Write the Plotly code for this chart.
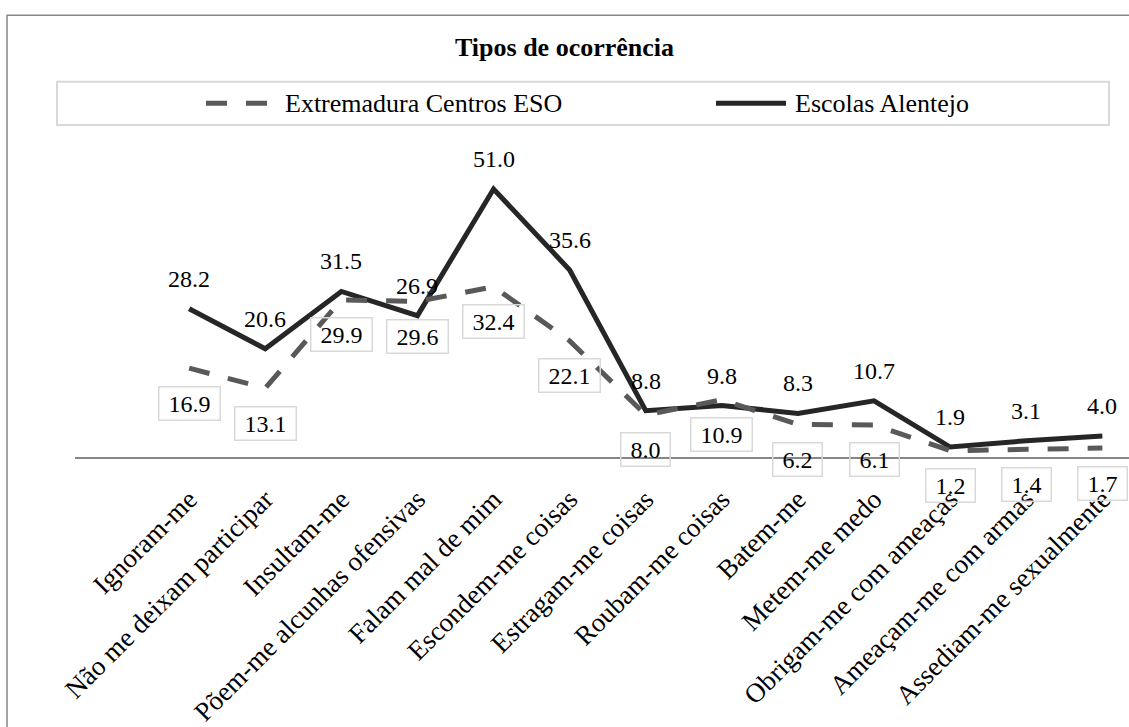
import plotly.graph_objects as go

# Categories and percentages per series
categorias = [
    "Ignoram-me", "Não me deixam participar", "Insultam-me",
    "Põem-me alcunhas ofensivas", "Falam mal de mim", "Escondem-me coisas",
    "Estragam-me coisas", "Roubam-me coisas", "Batem-me", "Metem-me medo",
    "Obrigam-me com ameaças", "Ameaçam-me com armas", "Assediam-me sexualmente",
]
extremadura = [16.9, 13.1, 29.9, 29.6, 32.4, 22.1, 8.0, 10.9, 6.2, 6.1, 1.2, 1.4, 1.7]
alentejo = [28.2, 20.6, 31.5, 26.9, 51.0, 35.6, 8.8, 9.8, 8.3, 10.7, 1.9, 3.1, 4.0]

nome_ext = "Extremadura Centros ESO"
nome_ale = "Escolas Alentejo"
titulo = "Tipos de ocorrência"

# Page geometry
W, H = 1129, 727
L, R, T, B = 75, 0, 168, 264
plot_w = W - L - R
plot_h = H - T - B
base_y = H - B

SERIF = '"Liberation Serif", "Times New Roman", Times, serif'
COR_EXT = "#595959"
COR_ALE = "#262626"


def px_x(p):
    return (p - L) / plot_w


def px_y(p):
    return (base_y - p) / plot_h


fig = go.Figure()

fig.add_trace(go.Scatter(
    x=categorias, y=alentejo, name=nome_ale, mode="lines",
    line=dict(color=COR_ALE, width=5),
))
fig.add_trace(go.Scatter(
    x=categorias, y=extremadura, name=nome_ext, mode="lines",
    line=dict(color=COR_EXT, width=5, dash="21px,19px"),
))

annotations = []
# Values above the solid series
for c, v in zip(categorias, alentejo):
    annotations.append(dict(
        x=c, y=v, xref="x", yref="y", text=f"{v:.1f}", showarrow=False,
        yshift=30, font=dict(family=SERIF, size=24, color="#000000"),
    ))
# Boxed values below the dashed series
for c, v in zip(categorias, extremadura):
    annotations.append(dict(
        x=c, y=v, xref="x", yref="y", text=f"\u00a0{v:.1f}\u00a0", showarrow=False,
        yshift=-35, font=dict(family=SERIF, size=24, color="#000000"),
        bordercolor="#d9d9d9", borderwidth=1.5, borderpad=3,
    ))

# Legend texts
annotations.append(dict(
    x=px_x(283), y=px_y(102), xref="paper", yref="paper", text=nome_ext,
    showarrow=False, xanchor="left", yanchor="middle",
    font=dict(family=SERIF, size=26, color="#000000"),
))
annotations.append(dict(
    x=px_x(793), y=px_y(102), xref="paper", yref="paper", text=nome_ale,
    showarrow=False, xanchor="left", yanchor="middle",
    font=dict(family=SERIF, size=26, color="#000000"),
))

shapes = [
    # chart frame
    dict(type="rect", xref="paper", yref="paper",
         x0=px_x(7), x1=px_x(W + 20), y0=px_y(12), y1=px_y(H + 20),
         line=dict(color="#878787", width=1.5), layer="below"),
    # legend box
    dict(type="rect", xref="paper", yref="paper",
         x0=px_x(57), x1=px_x(1109), y0=px_y(80), y1=px_y(124),
         line=dict(color="#d9d9d9", width=2)),
    # legend samples
    dict(type="line", xref="paper", yref="paper",
         x0=px_x(206), x1=px_x(270), y0=px_y(102), y1=px_y(102),
         line=dict(color=COR_EXT, width=5, dash="21px,19px")),
    dict(type="line", xref="paper", yref="paper",
         x0=px_x(716), x1=px_x(786), y0=px_y(102), y1=px_y(102),
         line=dict(color=COR_ALE, width=5)),
]

fig.update_layout(
    width=W, height=H,
    margin=dict(l=L, r=R, t=T, b=B),
    paper_bgcolor="#ffffff", plot_bgcolor="#ffffff",
    showlegend=False,
    title=dict(text=f"<b>{titulo}</b>", x=0.5, xref="container", xanchor="center",
               y=1 - 47 / H, yanchor="middle",
               font=dict(family=SERIF, size=26, color="#000000")),
    xaxis=dict(
        type="category", range=[-1.5, 12.35], showgrid=False, zeroline=False,
        showline=True, linecolor="#868686", linewidth=1.5, ticks="",
        tickangle=-45, ticklabelstandoff=14,
        tickfont=dict(family=SERIF, size=27, color="#000000"),
    ),
    yaxis=dict(range=[0, 55], visible=False, showgrid=False, zeroline=False),
    annotations=annotations,
    shapes=shapes,
)
fig.update_traces(cliponaxis=False)

fig.write_html("out.html")
